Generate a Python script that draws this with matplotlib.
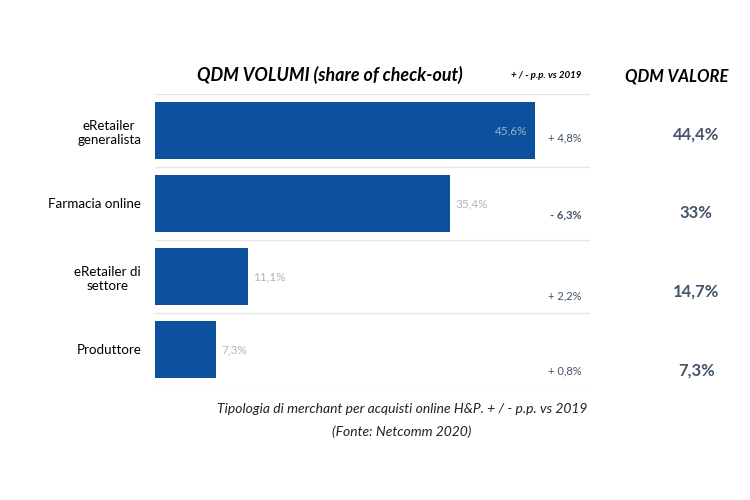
import matplotlib

matplotlib.use("Agg")
import matplotlib.pyplot as plt

plt.rcParams["font.family"] = ["Lato", "DejaVu Sans"]

categories = ["eRetailer\ngeneralista", "Farmacia online", "eRetailer di\nsettore", "Produttore"]
volumi = [45.6, 35.4, 11.1, 7.3]
volumi_labels = ["45,6%", "35,4%", "11,1%", "7,3%"]
delta_labels = ["+ 4,8%", "- 6,3%", "+ 2,2%", "+ 0,8%"]
valore_labels = ["44,4%", "33%", "14,7%", "7,3%"]

BAR_COLOR = "#0c519e"
SLATE = "#44546a"
LABEL_GREY = "#b4b4b4"

fig = plt.figure(figsize=(7.5, 5), dpi=100)
ax = fig.add_axes([0.2067, 0.228, 0.5803, 0.584])

pos = list(range(len(categories)))
ax.barh(pos, volumi, height=0.77, color=BAR_COLOR, zorder=2)
ax.set_xlim(0, 52.2)
ax.set_ylim(len(categories) - 0.5, -0.5)

for boundary in [-0.5, 0.5, 1.5, 2.5, 3.5]:
    ax.axhline(boundary, color="#e6e6e6", lw=1, zorder=1)

for spine in ax.spines.values():
    spine.set_visible(False)
ax.set_xticks([])
ax.set_yticks(pos)
ax.set_yticklabels(categories, fontsize=9.6, multialignment="center")
ax.tick_params(axis="y", length=0, pad=10)

for i, (v, lab) in enumerate(zip(volumi, volumi_labels)):
    if i == 0:
        ax.text(v - 0.9, i, lab, ha="right", va="center", color="#9fb0c8", fontsize=8.5)
    else:
        ax.text(v + 0.6, i, lab, ha="left", va="center", color=LABEL_GREY, fontsize=8.5)

delta_offsets = [0.1, 0.16, 0.26, 0.3]
for i, (lab, off) in enumerate(zip(delta_labels, delta_offsets)):
    weight = "bold" if lab.startswith("-") else "normal"
    ax.text(51.2, i + off, lab, ha="right", va="center", color=SLATE,
            fontsize=8, fontweight=weight)

val_offsets = [0.06, 0.13, 0.2, 0.29]
for i, (lab, off) in enumerate(zip(valore_labels, val_offsets)):
    ax.text(64.9, i + off, lab, ha="center", va="center", color=SLATE,
            fontsize=12, fontweight="bold")

fig.text(0.44, 0.85, "QDM VOLUMI (share of check-out)", ha="center", va="center",
         fontsize=12.9, fontweight="bold", style="italic")
fig.text(0.728, 0.85, "+ / - p.p. vs 2019", ha="center", va="center",
         fontsize=7, fontweight="bold", style="italic")
fig.text(0.902, 0.846, "QDM VALORE", ha="center", va="center",
         fontsize=12, fontweight="bold", style="italic")

fig.text(0.536, 0.182, "Tipologia di merchant per acquisti online H&P. + / - p.p. vs 2019",
         ha="center", va="center", fontsize=10, style="italic", color="#222222")
fig.text(0.536, 0.136, "(Fonte: Netcomm 2020)",
         ha="center", va="center", fontsize=10, style="italic", color="#222222")

fig.savefig("out.png", dpi=100)
